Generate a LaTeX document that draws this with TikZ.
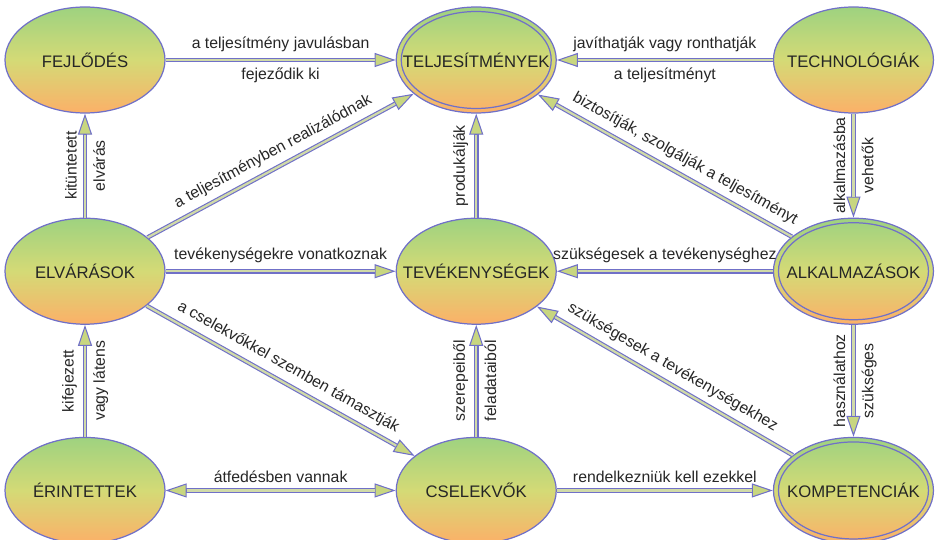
\documentclass[tikz,border=0pt]{standalone}
\usepackage{fontspec}
\setmainfont{Liberation Sans}
\usetikzlibrary{arrows.meta,positioning,shapes.geometric}
\definecolor{conceptgreen}{RGB}{158,210,128}
\definecolor{conceptmid}{RGB}{212,218,118}
\definecolor{conceptorange}{RGB}{252,176,104}
\definecolor{conceptline}{RGB}{112,112,200}
\definecolor{linkinner}{RGB}{208,218,168}
\definecolor{tipfill}{RGB}{200,214,128}

\begin{document}
\begin{tikzpicture}[node distance=3cm,
   font=\fontsize{9}{10}\selectfont, text=black!85,
   concept/.style={ellipse, draw=conceptline, line width=0.7pt,
      top color=conceptgreen, bottom color=conceptorange, middle color=conceptmid,
      minimum width=3.2cm, minimum height=2.12cm, inner xsep=-0.6cm, inner ysep=0pt,
      font=\fontsize{9.5}{11}\selectfont},
   link/.style={draw=conceptline, line width=2.6pt,
      -{Triangle[length=12pt,width=8pt,line width=0.6pt,color=conceptline,fill=tipfill]},
      postaction={draw=linkinner, line width=1.3pt, arrows=-, shorten >=12pt}},
   linkboth/.style={draw=conceptline, line width=2.6pt,
      {Triangle[length=12pt,width=8pt,line width=0.6pt,color=conceptline,fill=tipfill]}-{Triangle[length=12pt,width=8pt,line width=0.6pt,color=conceptline,fill=tipfill]},
      postaction={draw=linkinner, line width=1.3pt, arrows=-, shorten >=12pt, shorten <=12pt}}]

   \useasboundingbox (0,0) rectangle (18.7,-10.8);

   \node[concept] (fejl) at (1.7,-1.2) {FEJLŐDÉS};
   \node[concept] (telj) [right=4.6cm of fejl] {TELJESÍTMÉNYEK};
   \node[concept] (tech) [right=4.32cm of telj] {TECHNOLÓGIÁK};
   \node[concept] (elv) [below=2.08cm of fejl] {ELVÁRÁSOK};
   \node[concept] (tev) [below=2.08cm of telj] {TEVÉKENYSÉGEK};
   \node[concept] (alk) [below=2.08cm of tech] {ALKALMAZÁSOK};
   \node[concept] (erint) [below=2.24cm of elv] {ÉRINTETTEK};
   \node[concept] (csel) [below=2.24cm of tev] {CSELEKVŐK};
   \node[concept] (komp) [below=2.24cm of alk] {KOMPETENCIÁK};

   % double rim
   \foreach \n in {telj,alk,komp}
      \draw[conceptline, line width=0.7pt] (\n.center) ellipse (1.5cm and 0.97cm);

   \path (fejl) edge[link] node[above] {a teljesítmény javulásban} node[below] {fejeződik ki} (telj)
   (tech) edge[link] node[above] {javíthatják vagy ronthatják} node[below] {a teljesítményt} (telj)
   (elv) edge[link] node[rotate=90, above] {kitüntetett} node[rotate=90, below] {elvárás} (fejl)
   (elv) edge[link] node[sloped, above] {a teljesítményben realizálódnak} (telj)
   (tev) edge[link] node[rotate=90, above] {produkálják} (telj)
   (alk) edge[link] node[sloped, above, pos=0.45] {biztosítják, szolgálják a teljesítményt} (telj)
   (tech) edge[link] node[rotate=90, above] {alkalmazásba} node[rotate=90, below] {vehetők} (alk);

   \path (elv) edge[link] node[above] {tevékenységekre vonatkoznak} (tev)
   (alk) edge[link] node[above] {szükségesek a tevékenységhez} (tev)
   (elv) edge[link] node[sloped, above] {a cselekvőkkel szemben támasztják} (csel)
   (erint) edge[link] node[rotate=90, above] {kifejezett} node[rotate=90, below] {vagy látens} (elv)
   (csel) edge[link] node[rotate=90, above] {szerepeiből} node[rotate=90, below] {feladataiból} (tev)
   (komp) edge[link] node[sloped, above] {szükségesek a tevékenységekhez} (tev)
   (alk) edge[link] node[rotate=90, above] {használathoz} node[rotate=90, below] {szükséges} (komp);

   \path (erint) edge[linkboth] node[above] {átfedésben vannak} (csel)
   (csel) edge[link] node[above] {rendelkezniük kell ezekkel} (komp);

\end{tikzpicture}
\end{document}
